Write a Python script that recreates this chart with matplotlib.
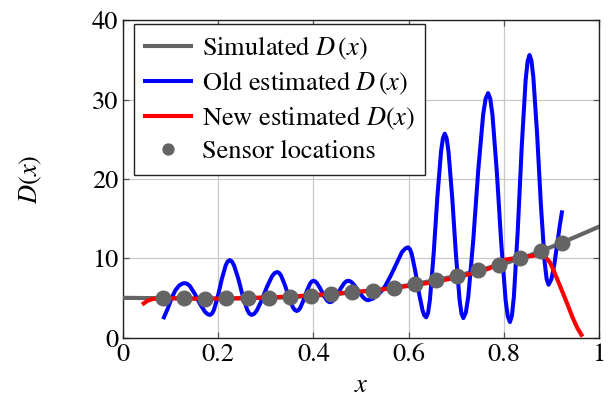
import numpy as np
import matplotlib
matplotlib.use("Agg")
import matplotlib.pyplot as plt

plt.rcParams['font.family'] = 'serif'
plt.rcParams['font.serif'] = ['STIXGeneral', 'Liberation Serif', 'DejaVu Serif']
plt.rcParams['mathtext.fontset'] = 'stix'

# simulated D(x)
sim_x = [0.0, 0.05, 0.10, 0.15, 0.20, 0.25, 0.30, 0.35, 0.40, 0.45, 0.50,
         0.55, 0.60, 0.65, 0.70, 0.75, 0.80, 0.85, 0.90, 0.95, 1.0]
sim_d = [5.05, 5.02, 5.0, 4.97, 4.97, 5.0, 5.04, 5.12, 5.3, 5.55, 5.83,
         6.15, 6.65, 7.2, 7.8, 8.55, 9.35, 10.3, 11.45, 12.7, 14.0]

# old estimate (oscillating)
old_x = [0.086, 0.094, 0.102, 0.110, 0.118, 0.125, 0.130,
         0.1353, 0.1406, 0.1512, 0.1618, 0.1724, 0.1777, 0.183,
         0.1871, 0.1912, 0.1994, 0.2076, 0.2158, 0.2199, 0.224,
         0.2286, 0.2332, 0.2424, 0.2516, 0.2608, 0.2654, 0.270,
         0.2754, 0.2808, 0.2916, 0.3024, 0.3132, 0.3186, 0.324,
         0.3281, 0.3322, 0.3404, 0.3486, 0.3568, 0.3609, 0.365,
         0.3685, 0.372, 0.379, 0.386, 0.393, 0.3965, 0.400,
         0.4035, 0.407, 0.414, 0.421, 0.428, 0.4315, 0.435,
         0.4388, 0.4426, 0.4502, 0.4578, 0.4654, 0.4692, 0.473,
         0.4771, 0.4812, 0.4894, 0.4976, 0.5058, 0.5109, 0.515,
         0.525, 0.540, 0.550, 0.563, 0.575, 0.586, 0.593, 0.596, 0.599,
         0.6028, 0.6066, 0.6142, 0.6218, 0.6294, 0.6332, 0.637,
         0.6409, 0.6448, 0.6526, 0.6604, 0.6682, 0.6721, 0.676,
         0.6799, 0.6838, 0.6916, 0.6994, 0.7072, 0.7111, 0.715,
         0.7202, 0.7254, 0.7358, 0.7462, 0.7566, 0.7618, 0.767,
         0.7716, 0.7762, 0.7854, 0.7946, 0.8038, 0.8084, 0.813,
         0.8171, 0.8212, 0.8294, 0.8376, 0.8458, 0.8499, 0.854,
         0.858, 0.862, 0.870, 0.878, 0.886, 0.890, 0.894,
         0.900, 0.906, 0.912, 0.917, 0.922]
old_d = [2.6, 3.7, 5.0, 6.0, 6.6, 6.85, 6.9,
         6.8, 6.52, 5.52, 4.28, 3.28, 3.0, 2.9,
         3.07, 3.56, 5.28, 7.42, 9.14, 9.63, 9.8,
         9.63, 9.14, 7.42, 5.28, 3.56, 3.07, 2.9,
         3.03, 3.42, 4.77, 6.43, 7.78, 8.17, 8.3,
         8.18, 7.83, 6.61, 5.09, 3.87, 3.52, 3.4,
         3.49, 3.76, 4.71, 5.89, 6.84, 7.11, 7.2,
         7.13, 6.94, 6.27, 5.43, 4.76, 4.57, 4.5,
         4.57, 4.76, 5.43, 6.27, 6.94, 7.13, 7.2,
         7.14, 6.97, 6.37, 5.63, 5.03, 4.81, 4.75,
         4.95, 5.7, 6.45, 7.9, 9.4, 10.8, 11.25, 11.35, 11.4,
         11.18, 10.56, 8.36, 5.64, 3.44, 2.82, 2.6,
         3.17, 4.81, 10.58, 17.72, 23.49, 25.13, 25.7,
         25.13, 23.48, 17.68, 10.52, 4.72, 3.07, 2.5,
         3.19, 5.2, 12.28, 21.02, 28.1, 30.11, 30.8,
         30.09, 28.05, 20.85, 11.95, 4.75, 2.71, 2.0,
         2.82, 5.21, 13.61, 23.99, 32.39, 34.78, 35.6,
         34.89, 32.84, 25.62, 16.68, 9.46, 7.41, 6.7,
         7.4, 9.2, 11.7, 13.9, 15.8]

# new estimate
new_x = [0.0435, 0.052, 0.062, 0.075, 0.10, 0.15, 0.20, 0.25, 0.30, 0.35,
         0.40, 0.45, 0.50, 0.55, 0.60, 0.65, 0.70, 0.75, 0.77, 0.79, 0.806,
         0.834, 0.855, 0.869, 0.880, 0.887, 0.897, 0.904, 0.915, 0.932,
         0.945, 0.955, 0.963]
new_d = [4.35, 4.7, 4.9, 5.0, 5.0, 4.95, 4.95, 5.0, 5.1, 5.2,
         5.4, 5.6, 5.85, 6.15, 6.55, 7.0, 7.6, 8.4, 8.75, 9.5, 9.9,
         10.1, 10.3, 10.4, 10.35, 10.2, 9.5, 8.6, 7.0, 4.5,
         2.5, 1.2, 0.4]

# sensors
sensor_x = [0.085, 0.129, 0.173, 0.217, 0.262, 0.306, 0.350, 0.394, 0.438, 0.482,
            0.526, 0.570, 0.614, 0.658, 0.702, 0.746, 0.790, 0.834, 0.878, 0.922]
sensor_d = [5.0, 5.0, 4.95, 5.0, 5.0, 5.05, 5.12, 5.28, 5.5, 5.75,
            5.95, 6.35, 6.8, 7.3, 7.8, 8.5, 9.2, 10.0, 10.95, 11.95]

fig = plt.figure(figsize=(6.08, 3.98), dpi=100)
ax = fig.add_axes([0.2023, 0.1508, 0.7829, 0.7989])

gray = '#646464'
ax.plot(sim_x, sim_d, color=gray, lw=3.0, label=r'Simulated $D\,(x)$', zorder=3)
ax.plot(old_x, old_d, color='#0000ff', lw=2.9, label=r'Old estimated $D\,(x)$',
        solid_joinstyle='round', zorder=4)
ax.plot(new_x, new_d, color='#ff0000', lw=3.0, label=r'New estimated $D(x)$',
        solid_joinstyle='round', zorder=5)
ax.plot(sensor_x, sensor_d, 'o', color=gray, ms=10.5, ls='none',
        label='Sensor locations', zorder=6)

ax.set_xlim(0, 1)
ax.set_ylim(0, 40)
ax.set_xticks([0, 0.2, 0.4, 0.6, 0.8, 1.0])
ax.set_xticklabels(['0', '0.2', '0.4', '0.6', '0.8', '1'])
ax.set_yticks([0, 10, 20, 30, 40])
ax.grid(True, color='#c8c8c8', lw=0.9)
ax.tick_params(direction='in', length=4.5, width=0.9, color='#555555',
               top=True, right=True, labelsize=19, pad=3.5)
for s in ax.spines.values():
    s.set_color('#222222')
    s.set_linewidth(1.0)

ax.set_xlabel(r'$x$', fontsize=19)
ax.set_ylabel(r'$D(x)$', fontsize=19)
ax.yaxis.set_label_coords(-0.165, 0.5)
ax.xaxis.set_label_coords(0.5, -0.112)

leg = ax.legend(loc='upper left', bbox_to_anchor=(0.024, 0.988), borderaxespad=0,
                fontsize=19, frameon=True, fancybox=False, framealpha=1,
                edgecolor='#222222', handlelength=1.75, handletextpad=0.4,
                labelspacing=0.3, borderpad=0.4, markerscale=0.75)
leg.get_frame().set_linewidth(1.0)

fig.savefig('out.png', dpi=100)
